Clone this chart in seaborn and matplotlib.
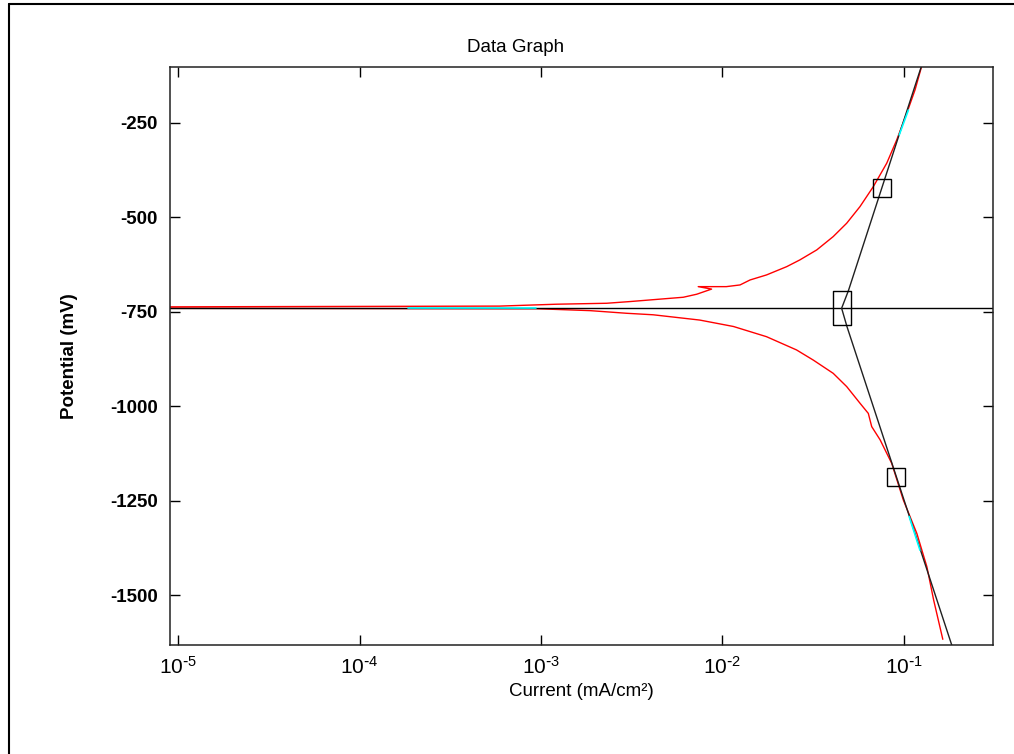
import numpy as np
import seaborn as sns
import matplotlib.pyplot as plt
from matplotlib.lines import Line2D
from matplotlib.ticker import NullLocator, FixedLocator, FuncFormatter

sns.set_style("ticks")
plt.rcParams['font.family'] = ['Liberation Sans', 'DejaVu Sans']
plt.rcParams['axes.unicode_minus'] = False  # plain hyphen for negatives
plt.rcParams['text.color'] = 'black'
plt.rcParams['axes.labelcolor'] = 'black'
plt.rcParams['xtick.color'] = 'black'
plt.rcParams['ytick.color'] = 'black'

# measured scan, cathodic end first (current mA/cm2, potential mV)
current = [0.164, 0.146, 0.134, 0.118, 0.0993, 0.0857, 0.0740, 0.0665, 0.0637,
           0.0573, 0.0484, 0.0408, 0.0317, 0.0256, 0.0175, 0.0115, 0.0075, 0.0069,
           0.00415, 0.00296, 0.00186, 0.00095, 8e-6,
           8e-6, 5.9e-4, 1.22e-3, 2.30e-3, 3.09e-3, 6.08e-3, 7.21e-3, 8.71e-3,
           7.35e-3, 1.05e-2, 1.25e-2, 1.42e-2, 1.75e-2, 2.26e-2, 2.67e-2, 3.31e-2,
           4.08e-2, 4.84e-2, 5.73e-2, 6.79e-2, 8.05e-2, 9.14e-2, 0.1038, 0.1153, 0.1256]
potential = [-1617, -1513, -1425, -1337, -1248, -1151, -1089, -1054, -1019,
             -992, -948, -913, -878, -851, -816, -789, -772, -770,
             -758, -754, -747, -742, -741,
             -737, -735, -730, -727.5, -723, -711.6, -703.6, -690,
             -683.5, -683.5, -679, -665.8, -652.5, -630.6, -612.8, -586.3,
             -551, -515.7, -471.7, -418.7, -356.7, -295, -224.3, -162.6, -99]

# Tafel fit lines
e_corr = -740
tafel_i = [0.127, 0.0495, 0.0454, 0.0486, 0.186]
tafel_e = [-90, -694, -740.7, -789.5, -1640]

# fit markers (boxes)
box_i = [0.076, 0.0906]
box_e = [-422, -1187]
corr_i, corr_e = 0.0454, -740

# selected fit regions (cyan)
sel_region = [([1.85e-4, 9.4e-4], [-739, -739]),
              ([0.0943, 0.106], [-282, -216]),
              ([0.107, 0.1227], [-1292, -1381])]

x_ticks = [1e-5, 1e-4, 1e-3, 1e-2, 1e-1]
y_ticks = [-250, -500, -750, -1000, -1250, -1500]


def pow10(v, pos):
    e = int(round(np.log10(v)))
    return r'$\mathdefault{10^{\text{-}%d}}$' % (-e) if e < 0 else r'$\mathdefault{10^{%d}}$' % e


fig = plt.figure(figsize=(10.14, 7.54), dpi=100)
ax = fig.add_axes([0.168, 0.1446, 0.811, 0.7666])
ax.set_xscale('log')

sns.lineplot(x=current, y=potential, sort=False, estimator=None,
             color='#ff0000', lw=1, ax=ax)
ax.axhline(e_corr, color='black', lw=1)
sns.lineplot(x=tafel_i, y=tafel_e, sort=False, estimator=None,
             color='#202020', lw=1, ax=ax)
for xs, ys in sel_region:
    ax.plot(xs, ys, color='#00ffff', lw=1.2)

ax.plot(box_i, box_e, ls='none', marker='s', ms=12.5, mfc='none',
        mec='black', mew=1)
tall = [(-0.5, -1), (0.5, -1), (0.5, 1), (-0.5, 1), (-0.5, -1)]
ax.plot([corr_i], [corr_e], ls='none', marker=tall, ms=24.5, mfc='none',
        mec='black', mew=1)

ax.set_xlim(10 ** -5.044, 10 ** -0.51)
ax.set_ylim(-1632, -102)
ax.xaxis.set_major_locator(FixedLocator(x_ticks))
ax.xaxis.set_minor_locator(NullLocator())
ax.xaxis.set_major_formatter(FuncFormatter(pow10))
ax.set_yticks(y_ticks)

ax.tick_params(direction='in', length=7.5, width=1, top=True, right=True)
ax.tick_params(axis='x', labelsize=15, pad=8)
ax.tick_params(axis='y', labelsize=13.5, pad=9)
for lab in ax.get_yticklabels():
    lab.set_fontweight('bold')
for s in ax.spines.values():
    s.set_linewidth(1.1)
    s.set_color('#222222')

ax.set_xlabel('Current (mA/cm²)', fontsize=13.5)
ax.set_ylabel('Potential (mV)', fontsize=13.5, fontweight='bold')
ax.xaxis.set_label_coords(0.5, -0.066)
ax.yaxis.set_label_coords(-0.1127, 0.5)
fig.text(516 / 1014, 1 - 47 / 754, 'Data Graph', ha='center', va='center',
         fontsize=13.5)

# window frame
fig.add_artist(Line2D([8.5 / 1014] * 2, [0, 1 - 4 / 754], transform=fig.transFigure,
                      color='black', lw=1.5))
fig.add_artist(Line2D([8.5 / 1014, 1], [1 - 4 / 754] * 2, transform=fig.transFigure,
                      color='black', lw=1.5))

fig.savefig('out.png', dpi=100)
